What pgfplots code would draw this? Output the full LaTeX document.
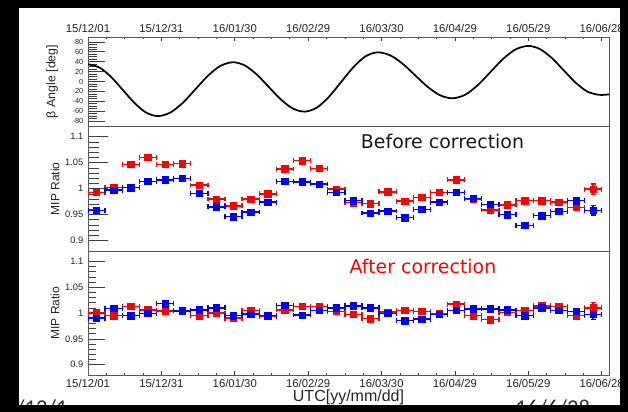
\documentclass[border=0pt]{standalone}
\usepackage{pgfplots}
\pgfplotsset{compat=1.18}
\usepackage{pgfplotstable}
\usepackage{fontspec}
\setmainfont{Liberation Sans}
\newfontfamily\dejavu{DejaVu Sans}
\newfontfamily\carlito{Carlito}

% bins of one week, x in days since 15/12/01
% x ex r er b eb
\pgfplotstableread{
x ex r er b eb
3.5 3.5 0.993 0.003 0.958 0.003
10.5 3.5 1.002 0.003 0.997 0.003
17.5 3.5 1.047 0.003 1.002 0.003
24.5 3.5 1.060 0.003 1.014 0.003
31.5 3.5 1.047 0.003 1.017 0.003
38.5 3.5 1.048 0.003 1.020 0.003
45.5 3.5 1.007 0.003 0.991 0.003
52.5 3.5 0.980 0.003 0.965 0.003
59.5 3.5 0.967 0.003 0.946 0.003
66.5 3.5 0.980 0.003 0.955 0.003
73.5 3.5 0.990 0.003 0.974 0.003
80.5 3.5 1.038 0.003 1.014 0.003
87.5 3.5 1.054 0.003 1.013 0.003
94.5 3.5 1.039 0.003 1.009 0.003
101.5 3.5 0.999 0.003 0.993 0.003
108.5 3.5 0.973 0.003 0.977 0.003
115.5 3.5 0.971 0.003 0.953 0.003
122.5 3.5 0.994 0.003 0.957 0.003
129.5 3.5 0.976 0.003 0.944 0.003
136.5 3.5 0.983 0.003 0.960 0.003
143.5 3.5 0.993 0.003 0.974 0.003
150.5 3.5 1.017 0.003 0.993 0.003
157.5 3.5 0.980 0.003 0.981 0.003
164.5 3.5 0.959 0.003 0.970 0.003
171.5 3.5 0.969 0.003 0.950 0.004
178.5 3.5 0.977 0.003 0.929 0.004
185.5 3.5 0.977 0.003 0.948 0.006
192.5 3.5 0.974 0.003 0.956 0.006
199.5 3.5 0.964 0.004 0.977 0.006
206.5 3.5 0.999 0.010 0.958 0.009
}\before

\pgfplotstableread{
x ex r er b eb
3.5 3.5 1.001 0.003 0.990 0.003
10.5 3.5 0.995 0.003 1.009 0.003
17.5 3.5 1.013 0.003 0.995 0.003
24.5 3.5 1.006 0.003 0.999 0.003
31.5 3.5 1.004 0.003 1.018 0.003
38.5 3.5 1.005 0.003 1.004 0.003
45.5 3.5 0.995 0.003 1.006 0.003
52.5 3.5 1.000 0.003 1.010 0.003
59.5 3.5 0.990 0.003 0.995 0.003
66.5 3.5 1.005 0.003 0.998 0.003
73.5 3.5 0.994 0.003 0.995 0.003
80.5 3.5 1.006 0.003 1.015 0.003
87.5 3.5 1.013 0.003 0.996 0.003
94.5 3.5 1.013 0.003 1.005 0.003
101.5 3.5 1.003 0.003 1.010 0.003
108.5 3.5 0.997 0.003 1.014 0.003
115.5 3.5 0.989 0.003 1.010 0.003
122.5 3.5 1.002 0.003 0.999 0.003
129.5 3.5 1.005 0.003 0.985 0.003
136.5 3.5 1.003 0.003 0.988 0.003
143.5 3.5 0.999 0.003 0.997 0.003
150.5 3.5 1.017 0.003 1.005 0.003
157.5 3.5 0.995 0.003 1.008 0.003
164.5 3.5 0.987 0.003 1.008 0.003
171.5 3.5 1.001 0.003 1.006 0.004
178.5 3.5 1.005 0.003 0.995 0.004
185.5 3.5 1.014 0.003 1.010 0.006
192.5 3.5 1.013 0.003 1.005 0.006
199.5 3.5 0.995 0.004 1.003 0.006
206.5 3.5 1.010 0.010 0.997 0.009
}\after

\pgfplotsset{
  rootframe/.style={
    scale only axis, width=390.75pt,
    xmin=0, xmax=213,
    axis line style={black!65, line width=0.6pt},
    ytick pos=left,
    tick style={black!75, line width=0.5pt},
    tick align=inside,
    /pgf/number format/assume math mode=true,
    xtick={0,30,60,90,120,150,180,210},
    xticklabels={15/12/01,15/12/31,16/01/30,16/02/29,16/03/30,16/04/29,16/05/29,16/06/28},
    minor x tick num=3,
    xtick style={/pgfplots/major tick length=3pt, /pgfplots/minor tick length=1.6pt},
    x tick label style={font=\fontsize{8.5}{10}\selectfont, text=black!85},
    ylabel style={font=\fontsize{9}{10}\selectfont, text=black!85, anchor=center, rotate=0},
  },
  ratio/.style={
    rootframe,
    height=93.5pt,
    ymin=0.88, ymax=1.12,
    ytick={0.9,0.95,1,1.05,1.1},
    yticklabels={0.9,0.95,1,1.05,1.1},
    minor y tick num=4,
    y tick label style={font=\fontsize{7}{8}\selectfont, text=black!85},
    ylabel={MIP Ratio},
  },
  redpts/.style={only marks, mark=square*, mark size=2.4pt, color=red,
    error bars/.cd, x dir=both, x explicit, y dir=both, y explicit,
    error bar style={line width=1.1pt},
    error mark options={rotate=90, mark size=1.8pt, line width=1pt}},
  bluepts/.style={only marks, mark=square*, mark size=2.4pt, color=blue,
    error bars/.cd, x dir=both, x explicit, y dir=both, y explicit,
    error bar style={line width=1.1pt},
    error mark options={rotate=90, mark size=1.8pt, line width=1pt}},
}

\begin{document}
\begin{tikzpicture}
\useasboundingbox (0,0) rectangle (471pt,308.25pt);
\begin{scope}[x=0.75pt,y=0.75pt]
\fill[black] (0,0) rectangle (628,411);
\fill[white] (19,6) rectangle (620,403);
\end{scope}

% beta angle
\begin{axis}[rootframe, at={(66pt,213.75pt)}, anchor=south west,
  height=66.75pt,
  ymin=-90, ymax=90,
  ytick={-80,-60,-40,-20,0,20,40,60,80},
  minor y tick num=3,
  xtick pos=right, xticklabel pos=right,
  ytick style={/pgfplots/major tick length=13pt, /pgfplots/minor tick length=6.5pt},
  y tick label style={font=\fontsize{5.5}{6}\selectfont, text=black!85},
  ylabel={β Angle [deg]},
  ylabel style={at={(axis description cs:-0.069,0.5)}, font=\fontsize{9.3}{10}\selectfont},
]
\addplot[black, line width=1.3pt, smooth] coordinates {
(0,35) (4.77,28) (9.53,8.75) (14.3,-17.5) (19.07,-43.75) (23.83,-63)
(28.6,-70) (33.72,-62.7) (38.83,-42.75) (43.95,-15.5) (49.07,11.75) (54.18,31.7)
(59.3,39) (64.17,32.3) (69.03,14) (73.9,-11) (78.77,-36) (83.63,-54.3)
(88.5,-61) (93.5,-53) (98.5,-31) (103.5,-1) (108.5,29) (113.5,51)
(118.5,59) (123.58,52.8) (128.67,35.75) (133.75,12.5) (138.83,-10.75) (143.92,-27.8)
(149,-34) (154.17,-26.9) (159.33,-7.5) (164.5,19) (169.67,45.5) (174.83,64.9)
(180,72) (184.83,65.4) (189.67,47.25) (194.5,22.5) (199.33,-2.25) (204.17,-20.4)
(209,-27) (213,-26)
};
\end{axis}

% before correction
\begin{axis}[ratio, at={(66pt,120pt)}, anchor=south west,
  xtick=\empty,
  ytick style={/pgfplots/major tick length=15pt, /pgfplots/minor tick length=8pt},
  ylabel style={at={(axis description cs:-0.063,0.5)}},
]
\addplot[redpts] table[x=x, y=r, x error=ex, y error=er] {\before};
\addplot[bluepts] table[x=x, y=b, x error=ex, y error=eb] {\before};
\end{axis}

% after correction
\begin{axis}[ratio, at={(66pt,27pt)}, anchor=south west,
  height=93pt,
  xtick pos=left,
  ytick style={/pgfplots/major tick length=12.5pt, /pgfplots/minor tick length=6pt},
  ylabel style={at={(axis description cs:-0.063,0.5)}},
  xlabel={UTC[yy/mm/dd]},
  xlabel style={at={(axis description cs:0.5,-0.177)}, anchor=center,
    font=\fontsize{12}{13}\selectfont, text=black!85},
]
\addplot[redpts] table[x=x, y=r, x error=ex, y error=er] {\after};
\addplot[bluepts] table[x=x, y=b, x error=ex, y error=eb] {\after};
\end{axis}

\begin{scope}[x=0.75pt,y=0.75pt]
\node[anchor=base, inner sep=0, font=\dejavu\fontsize{14.2}{15}\selectfont, text=black!90] at (442.5,262) {Before correction};
\node[anchor=base, inner sep=0, font=\dejavu\fontsize{14.2}{15}\selectfont, text=red] at (423,137.7) {After correction};
% pieces of the slide behind, mostly hidden under the black border
\node[anchor=north east, inner sep=0, font=\carlito\fontsize{17}{17}\selectfont, text=black!80] at (68,12) {15/12/1};
\node[anchor=north west, inner sep=0, font=\carlito\fontsize{17}{17}\selectfont, text=black!80] at (515,12) {16/6/28};
\fill[black] (-5,-20) rectangle (633,6);
\fill[black] (-5,-20) rectangle (19,420);
\fill[black] (620,-20) rectangle (633,420);
\end{scope}
\end{tikzpicture}
\end{document}
